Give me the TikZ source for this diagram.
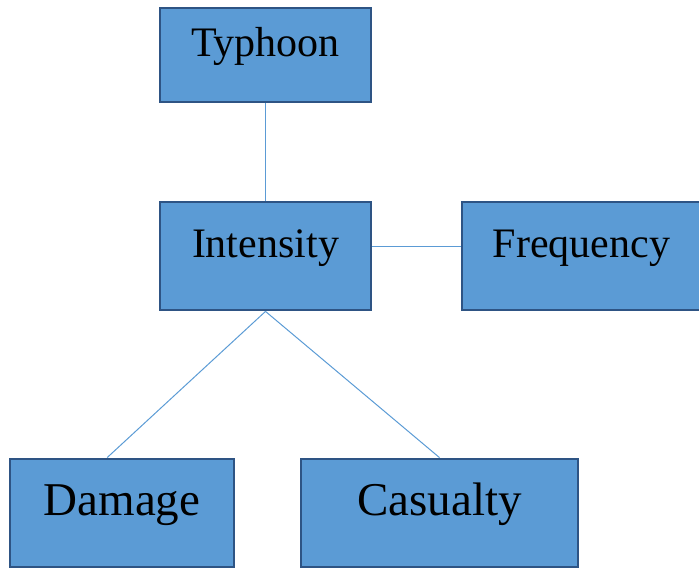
\documentclass[tikz,border=0pt]{standalone}
\usepackage{fontspec}
\setmainfont{Liberation Serif}
\definecolor{boxfill}{RGB}{91,155,213}
\definecolor{boxline}{RGB}{46,84,132}
\definecolor{linkblue}{RGB}{91,155,213}
\tikzset{
  box/.style={draw=boxline, line width=2.1pt, fill=boxfill, rectangle, inner sep=0pt,
    text height=0.7em, text depth=0.55em},
  toprow/.style={box, font=\fontsize{31.5}{36}\selectfont},
  lowrow/.style={box, font=\fontsize{35.25}{40}\selectfont, text depth=0.36em},
  link/.style={draw=linkblue, line width=0.75pt}
}
\begin{document}
\begin{tikzpicture}[x=0.75pt,y=0.75pt,yscale=-1,xscale=1]
\useasboundingbox (0,0) rectangle (699,568);

%Shape: Rectangle [Typhoon]
\node [toprow, minimum width=211*0.75pt, minimum height=94*0.75pt] (typhoon) at (265.5,55) {Typhoon};
%Shape: Rectangle [Intensity]
\node [toprow, minimum width=211*0.75pt, minimum height=108*0.75pt] (intensity) at (265.5,256) {Intensity};
%Shape: Rectangle [Frequency]
\node [toprow, minimum width=239*0.75pt, minimum height=108*0.75pt] (frequency) at (581.5,256) {Frequency};
%Shape: Rectangle [Damage]
\node [lowrow, minimum width=224*0.75pt, minimum height=108*0.75pt] (damage) at (122,513) {Damage};
%Shape: Rectangle [Casualty]
\node [lowrow, minimum width=277*0.75pt, minimum height=108*0.75pt] (casualty) at (439.5,513) {Casualty};

%Straight Lines
\draw [link] (typhoon.south) -- (intensity.north) ;
%Straight Lines
\draw [link] (intensity.5) -- (intensity.5 -| frequency.west) ;
%Straight Lines
\draw [link] (intensity.south) -- (damage.105) ;
%Straight Lines
\draw [link] (intensity.south) -- (casualty.north) ;

\end{tikzpicture}
\end{document}
